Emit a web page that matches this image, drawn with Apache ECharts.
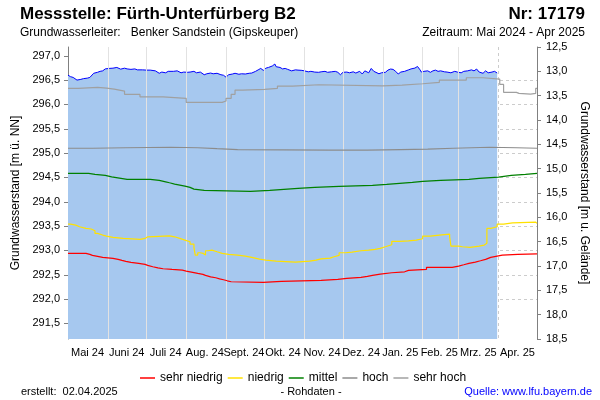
<!DOCTYPE html>
<html>
<head>
<meta charset="utf-8">
<script src="https://cdn.jsdelivr.net/npm/echarts@6/dist/echarts.min.js"></script>
<style>html,body{margin:0;padding:0;background:#fff;}#c{width:600px;height:400px;}</style>
</head>
<body>
<div id="c"></div>
<script>
// ---- data ----
const monthLabels = ['Mai 24','Juni 24','Juli 24','Aug. 24','Sept. 24','Okt. 24','Nov. 24','Dez. 24','Jan. 25','Feb. 25','Mrz. 25','Apr. 25'];
const monthLines = ['2024-06-01','2024-07-01','2024-08-01','2024-09-01','2024-10-01','2024-11-01','2024-12-01','2025-01-01','2025-02-01','2025-03-01'];
const leftTicks = [291.5,292.0,292.5,293.0,293.5,294.0,294.5,295.0,295.5,296.0,296.5,297.0];

const messwerte = [
['2024-05-01',296.60],['2024-05-03',296.57],['2024-05-05',296.555],['2024-05-06',296.54],['2024-05-08',296.50],['2024-05-11',296.515],['2024-05-13',296.53],['2024-05-16',296.54],['2024-05-18',296.555],['2024-05-21',296.64],['2024-05-24',296.66],['2024-05-26',296.68],['2024-05-28',296.69],['2024-05-30',296.73],
['2024-06-02',296.74],['2024-06-05',296.745],['2024-06-08',296.76],['2024-06-11',296.725],['2024-06-14',296.745],['2024-06-16',296.73],['2024-06-19',296.72],['2024-06-22',296.73],['2024-06-24',296.71],['2024-06-28',296.71],
['2024-07-01',296.705],['2024-07-04',296.705],['2024-07-08',296.69],['2024-07-11',296.64],['2024-07-13',296.665],['2024-07-16',296.65],['2024-07-18',296.68],['2024-07-22',296.68],['2024-07-25',296.69],['2024-07-28',296.65],['2024-07-30',296.665],
['2024-08-02',296.66],['2024-08-04',296.665],['2024-08-07',296.68],['2024-08-09',296.65],['2024-08-12',296.665],['2024-08-15',296.61],['2024-08-17',296.63],['2024-08-20',296.645],['2024-08-22',296.63],['2024-08-25',296.64],['2024-08-28',296.61],['2024-08-30',296.60],
['2024-09-01',296.56],['2024-09-03',296.61],['2024-09-06',296.625],['2024-09-08',296.64],['2024-09-11',296.62],['2024-09-13',296.63],['2024-09-16',296.625],['2024-09-19',296.64],['2024-09-21',296.645],['2024-09-24',296.68],['2024-09-26',296.71],['2024-09-28',296.74],['2024-09-30',296.70],
['2024-10-02',296.745],['2024-10-04',296.76],['2024-10-07',296.79],['2024-10-09',296.83],['2024-10-10',296.775],['2024-10-13',296.76],['2024-10-15',296.73],['2024-10-17',296.74],['2024-10-19',296.72],['2024-10-22',296.69],['2024-10-25',296.71],['2024-10-27',296.705],['2024-10-30',296.70],
['2024-11-01',296.69],['2024-11-04',296.67],['2024-11-06',296.68],['2024-11-09',296.665],['2024-11-12',296.66],['2024-11-14',296.67],['2024-11-17',296.68],['2024-11-19',296.66],['2024-11-22',296.67],['2024-11-25',296.68],['2024-11-27',296.66],['2024-11-29',296.61],
['2024-12-01',296.66],['2024-12-04',296.665],['2024-12-06',296.65],['2024-12-09',296.67],['2024-12-11',296.645],['2024-12-14',296.68],['2024-12-16',296.625],['2024-12-18',296.69],['2024-12-19',296.71],['2024-12-21',296.65],['2024-12-23',296.74],['2024-12-25',296.68],['2024-12-26',296.645],['2024-12-29',296.63],['2024-12-31',296.65],
['2025-01-03',296.66],['2025-01-05',296.705],['2025-01-07',296.727],['2025-01-09',296.72],['2025-01-11',296.68],['2025-01-13',296.625],['2025-01-15',296.665],['2025-01-18',296.68],['2025-01-21',296.71],['2025-01-23',296.73],['2025-01-26',296.747],['2025-01-28',296.78],['2025-01-30',296.71],['2025-01-31',296.665],
['2025-02-02',296.68],['2025-02-05',296.69],['2025-02-07',296.66],['2025-02-09',296.69],['2025-02-11',296.705],['2025-02-13',296.68],['2025-02-15',296.69],['2025-02-18',296.67],['2025-02-20',296.665],['2025-02-23',296.65],['2025-02-26',296.68],['2025-02-28',296.665],
['2025-03-03',296.65],['2025-03-05',296.68],['2025-03-08',296.69],['2025-03-11',296.71],['2025-03-13',296.69],['2025-03-15',296.727],['2025-03-17',296.665],['2025-03-20',296.64],['2025-03-22',296.69],['2025-03-24',296.65],['2025-03-27',296.665],['2025-03-29',296.68],['2025-03-31',296.645]
];

const sehrNiedrig = [
['2024-05-01',292.939],['2024-05-15',292.919],['2024-05-18',292.898],['2024-05-20',292.878],['2024-05-24',292.857],['2024-05-28',292.837],['2024-06-05',292.816],['2024-06-09',292.795],['2024-06-12',292.775],['2024-06-15',292.754],['2024-06-19',292.734],['2024-06-25',292.713],['2024-06-30',292.693],
['2024-07-02',292.664],['2024-07-06',292.643],['2024-07-10',292.623],['2024-07-14',292.61],['2024-07-21',292.596],['2024-07-29',292.576],['2024-08-01',292.555],['2024-08-05',292.528],['2024-08-10',292.508],['2024-08-14',292.487],['2024-08-16',292.458],['2024-08-20',292.438],['2024-08-24',292.417],['2024-08-27',292.397],['2024-08-30',292.376],
['2024-09-02',292.356],['2024-09-05',292.343],['2024-09-30',292.364],['2024-10-14',292.384],['2024-11-14',292.405],['2024-11-27',292.426],['2024-12-04',292.446],['2024-12-15',292.467],['2024-12-20',292.487],['2024-12-24',292.514],['2024-12-30',292.541],
['2025-01-08',292.561],['2025-01-18',292.59],['2025-01-21',292.61],['2025-02-04',292.652],['2025-02-24',292.678],['2025-03-01',292.705],['2025-03-05',292.734],['2025-03-09',292.76],['2025-03-14',292.787],['2025-03-18',292.816],['2025-03-22',292.857],['2025-03-26',292.884],['2025-03-31',292.904],['2025-04-04',292.919],['2025-04-16',292.931],['2025-05-01',292.935]
];

const niedrig = [
['2024-05-01',293.541],['2024-05-03',293.52],['2024-05-07',293.486],['2024-05-10',293.453],['2024-05-15',293.44],['2024-05-19',293.404],['2024-05-22',293.35],['2024-05-24',293.316],['2024-05-28',293.295],['2024-05-31',293.268],['2024-06-05',293.247],['2024-06-13',293.233],['2024-06-23',293.227],['2024-06-26',293.247],['2024-06-30',293.28],['2024-07-02',293.30],
['2024-07-19',293.28],['2024-07-23',293.247],['2024-07-27',293.213],['2024-07-31',293.178],['2024-08-04',293.13],['2024-08-07',293.063],['2024-08-08',292.904],['2024-08-10',292.952],['2024-08-12',292.94],['2024-08-14',292.904],['2024-08-16',292.993],['2024-08-18',293.007],['2024-08-21',292.972],['2024-08-25',292.94],['2024-08-29',292.919],
['2024-09-03',292.904],['2024-09-10',292.884],['2024-09-16',292.857],['2024-09-21',292.822],['2024-09-27',292.80],['2024-10-02',292.781],['2024-10-10',292.76],['2024-10-25',292.781],['2024-11-05',292.80],['2024-11-10',292.828],['2024-11-14',292.843],['2024-11-21',292.87],['2024-11-24',292.898],['2024-11-28',292.952],
['2024-12-03',292.966],['2024-12-08',292.993],['2024-12-15',293.007],['2024-12-21',293.022],['2024-12-26',293.042],['2024-12-30',293.075],['2025-01-03',293.116],['2025-01-08',293.186],['2025-01-14',293.198],['2025-01-21',293.213],['2025-01-27',293.24],['2025-02-01',293.295],['2025-02-07',293.316],['2025-02-14',293.336],
['2025-02-22',293.28],['2025-02-23',293.089],['2025-03-01',293.075],['2025-03-04',293.063],['2025-03-10',293.089],['2025-03-17',293.11],['2025-03-21',293.145],['2025-03-23',293.453],['2025-03-26',293.486],['2025-03-31',293.541],['2025-04-05',293.568],['2025-04-12',293.582],['2025-04-30',293.555],['2025-05-01',293.555]
];

const mittel = [
['2024-05-01',294.583],['2024-05-17',294.563],['2024-05-22',294.542],['2024-05-30',294.513],['2024-06-04',294.487],['2024-06-10',294.46],['2024-06-16',294.44],['2024-06-17',294.46],['2024-07-04',294.44],['2024-07-11',294.41],['2024-07-16',294.39],['2024-07-19',294.364],['2024-07-23',294.343],['2024-07-27',294.32],['2024-07-31',294.296],
['2024-08-04',294.26],['2024-08-07',294.234],['2024-08-15',294.213],['2024-09-20',294.234],['2024-10-05',294.255],['2024-10-16',294.275],['2024-10-27',294.296],['2024-11-09',294.316],['2024-11-28',294.337],['2024-12-24',294.357],
['2025-01-04',294.378],['2025-01-14',294.398],['2025-01-24',294.419],['2025-02-01',294.44],['2025-02-15',294.46],['2025-03-09',294.48],['2025-03-17',294.507],['2025-04-01',294.542],['2025-04-11',294.563],['2025-04-22',294.583],['2025-05-01',294.583]
];

const hoch = [
['2024-05-01',295.10],['2024-05-20',295.11],['2024-06-15',295.12],['2024-07-20',295.11],['2024-08-10',295.09],['2024-08-25',295.07],['2024-09-10',295.06],['2024-11-20',295.06],['2024-12-20',295.07],
['2025-01-15',295.08],['2025-02-05',295.10],['2025-02-25',295.12],['2025-03-25',295.11],['2025-04-15',295.10],['2025-05-01',295.10]
];

const sehrHoch = [
['2024-05-01',296.33],['2024-05-09',296.35],['2024-05-24',296.336],['2024-05-31',296.316],['2024-06-06',296.275],['2024-06-14',296.207],['2024-06-26',296.157],['2024-07-14',296.125],['2024-08-01',296.042],['2024-08-29',296.07],
['2024-09-01',296.125],['2024-09-05',296.207],['2024-09-08',296.295],['2024-09-14',296.31],['2024-10-01',296.33],['2024-10-11',296.377],['2024-10-23',296.404],['2024-11-12',296.383],
['2025-01-01',296.398],['2025-01-16',296.425],['2025-02-01',296.453],['2025-02-14',296.50],['2025-03-07',296.548],['2025-03-20',296.52],['2025-04-02',296.41],['2025-04-05',296.248],['2025-04-15',296.227],['2025-04-17',296.213],['2025-04-26',296.227],['2025-04-30',296.33],['2025-05-01',296.33]
];

const thresholdNames = ['sehr niedrig','niedrig','mittel','hoch','sehr hoch'];
const thresholdColors = ['#ff0000','#ffe100','#008000','#8c8c8c','#a0a0a0'];
const thresholdData = [sehrNiedrig, niedrig, mittel, hoch, sehrHoch];

// ---- chart ----
const FONT = 'Liberation Sans, Arial, sans-serif';
const fmt = v => (Math.abs(v * 2 - Math.round(v * 2)) < 1e-6) ? v.toFixed(1).replace('.', ',') : '';
const chart = echarts.init(document.getElementById('c'), null, {renderer: 'canvas'});

const series = [{
  name: 'Messwerte', type: 'line', data: messwerte, symbol: 'none', z: 2,
  lineStyle: {color: '#0000ff', width: 1},
  areaStyle: {color: '#a6c8ef', opacity: 1, origin: 'start'},
  markLine: {
    silent: true, symbol: 'none', label: {show: false}, animation: false,
    lineStyle: {color: '#e2e2e2', type: 'solid', width: 1},
    data: monthLines.map(d => ({xAxis: d}))
  }
}];
thresholdNames.forEach((n, i) => {
  series.push({
    name: n, type: 'line', step: 'end', data: thresholdData[i], symbol: 'none', z: 10,
    lineStyle: {color: thresholdColors[i], width: 1.2}, itemStyle: {color: thresholdColors[i]}
  });
});

chart.setOption({
  animation: false,
  textStyle: {fontFamily: FONT},
  grid: {left: 68, right: 63, top: 47, bottom: 61, containLabel: false, outerBoundsMode: 'none'},
  legend: {
    data: thresholdNames.map(n => ({name: n, icon: 'rect'})), left: 135, top: 367, itemWidth: 15, itemHeight: 1.5, itemGap: 5,
    textStyle: {fontSize: 12, color: '#000', fontFamily: FONT}, selectedMode: false
  },
  xAxis: [{
    type: 'time', min: '2024-05-01', max: '2025-05-01', splitNumber: 12,
    axisLabel: {show: false}, axisTick: {show: false}, axisLine: {show: false},
    splitLine: {show: true, lineStyle: {color: '#cccccc', type: [3, 3], width: 1}}
  }, {
    type: 'category', data: monthLabels, position: 'bottom', boundaryGap: true,
    axisLine: {show: false}, axisTick: {show: false}, splitLine: {show: false},
    axisLabel: {fontSize: 11, color: '#000', margin: 8, interval: 0, fontFamily: FONT}
  }],
  yAxis: [{
    type: 'value', position: 'left', min: 291.18, max: 297.18, splitNumber: 12, minInterval: 0.5, maxInterval: 0.5,
    axisLine: {show: true, lineStyle: {color: '#808080'}},
    axisTick: {show: true, inside: false, length: 4, lineStyle: {color: '#808080'}, customValues: leftTicks},
    axisLabel: {fontSize: 11, color: '#000', margin: 8, formatter: fmt, customValues: leftTicks, fontFamily: FONT},
    splitLine: {show: true, showMinLine: false, showMaxLine: false, lineStyle: {color: '#cccccc', type: [3, 3]}},
    name: 'Grundwasserstand [m ü. NN]', nameLocation: 'middle', nameGap: 42,
    nameTextStyle: {fontSize: 12, color: '#000', fontFamily: FONT}
  }, {
    type: 'value', position: 'right', inverse: true, min: 12.5, max: 18.5, interval: 0.5,
    axisLine: {show: true, lineStyle: {color: '#808080'}},
    axisTick: {show: true, inside: false, length: 4, lineStyle: {color: '#808080'}},
    axisLabel: {fontSize: 11, color: '#000', margin: 9, formatter: fmt, fontFamily: FONT},
    splitLine: {show: false},
    name: 'Grundwasserstand [m u. Gelände]', nameLocation: 'middle', nameGap: 37, nameRotate: -90,
    nameTextStyle: {fontSize: 12, color: '#000', fontFamily: FONT}
  }],
  graphic: [
    {type: 'text', x: 20, y: 14, style: {text: 'Messstelle: Fürth-Unterfürberg B2', font: 'bold 17px ' + FONT, fill: '#000', align: 'left', verticalAlign: 'middle'}},
    {type: 'text', x: 585, y: 14, style: {text: 'Nr: 17179', font: 'bold 17px ' + FONT, fill: '#000', align: 'right', verticalAlign: 'middle'}},
    {type: 'text', x: 20, y: 33, style: {text: 'Grundwasserleiter:   Benker Sandstein (Gipskeuper)', font: '12px ' + FONT, fill: '#000', align: 'left', verticalAlign: 'middle'}},
    {type: 'text', x: 585, y: 33, style: {text: 'Zeitraum: Mai 2024 - Apr 2025', font: '12px ' + FONT, fill: '#000', align: 'right', verticalAlign: 'middle'}},
    {type: 'text', x: 21, y: 392, style: {text: 'erstellt:  02.04.2025', font: '11px ' + FONT, fill: '#000', align: 'left', verticalAlign: 'middle'}},
    {type: 'text', x: 311, y: 392, style: {text: '- Rohdaten -', font: '11px ' + FONT, fill: '#000', align: 'center', verticalAlign: 'middle'}},
    {type: 'text', x: 592, y: 392, style: {text: 'Quelle: www.lfu.bayern.de', font: '11px ' + FONT, fill: '#0000ff', align: 'right', verticalAlign: 'middle'}}
  ],
  series: series
});
</script>
</body>
</html>
